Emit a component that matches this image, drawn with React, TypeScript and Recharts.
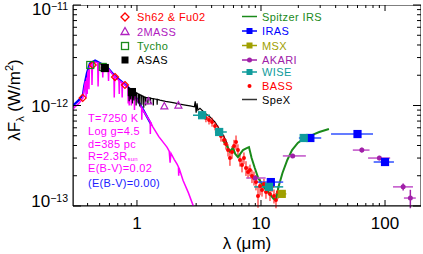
import React from 'react';
import { ComposedChart, Line, Scatter, XAxis, YAxis, ErrorBar, ReferenceArea } from 'recharts';

const W = 423;
const H = 254;
const PLOT_TOP = 5;
const PLOT_RIGHT = 421;
const TICK_MARGIN = 4;
const FONT = '"Liberation Sans", Arial, Helvetica, sans-serif';

const RED = '#ff0000';
const PURPLE = '#b020c0';
const GREEN = '#1a8a1a';
const BLUE = '#0000ff';
const OLIVE = '#a0a000';
const AKARI = '#a020a8';
const TEAL = '#109c9c';
const MAGENTA = '#ff00ff';

// axis ticks
const xMajor = [1, 10, 100];
const xTicks = [0.4, 0.5, 0.6, 0.7, 0.8, 0.9, 1, 2, 3, 4, 5, 6, 7, 8, 9, 10, 20, 30, 40, 50, 60, 70, 80, 90, 100];
const yMajor = [1e-13, 1e-12, 1e-11];
const yTicks = [1e-13, 2e-13, 3e-13, 4e-13, 5e-13, 6e-13, 7e-13, 8e-13, 9e-13, 1e-12, 2e-12, 3e-12, 4e-12, 5e-12, 6e-12, 7e-12, 8e-12, 9e-12, 1e-11];
const yExp: Record<string, string> = { '1e-13': '\u221213', '1e-12': '\u221212', '1e-11': '\u221211' };

// model photosphere, E(B-V)=0.02 (lambda um, lambda F_lambda in 1e-12 W/m2)
const modelRed: [number, number][] = [
  [0.30, 0.90], [0.316, 0.97], [0.34, 1.05], [0.36, 1.15], [0.367, 1.19], [0.375, 1.45],
  [0.384, 1.75], [0.389, 1.2], [0.393, 1.9], [0.397, 1.3], [0.401, 2.1], [0.407, 2.25],
  [0.410, 1.45], [0.414, 2.4], [0.425, 2.6], [0.431, 2.62], [0.434, 1.6], [0.438, 2.65],
  [0.46, 2.71], [0.482, 2.66], [0.486, 1.55], [0.491, 2.64], [0.52, 2.55], [0.527, 2.52],
  [0.53, 1.9], [0.534, 2.5], [0.573, 2.36], [0.586, 2.3], [0.59, 1.75], [0.594, 2.28],
  [0.652, 1.97], [0.656, 1.2], [0.661, 1.95], [0.69, 1.85], [0.715, 1.78], [0.72, 1.3],
  [0.725, 1.76], [0.755, 1.7], [0.76, 1.2], [0.765, 1.68], [0.80, 1.6], [0.846, 1.5],
  [0.85, 1.05], [0.854, 1.49], [0.862, 1.47], [0.866, 1.0], [0.870, 1.46], [0.897, 1.4],
  [0.901, 1.0], [0.905, 1.39], [0.93, 1.33], [0.951, 1.28], [0.955, 0.9], [0.959, 1.27],
  [1.0, 1.15], [1.09, 0.95], [1.094, 0.72], [1.098, 0.94], [1.118, 0.90], [1.25, 0.72],
  [1.278, 0.69], [1.282, 0.52], [1.286, 0.685], [1.346, 0.61], [1.5, 0.49], [1.745, 0.386],
  [1.80, 0.36], [1.82, 0.35], [1.85, 0.27], [1.88, 0.335], [2.0, 0.29], [2.1, 0.262],
  [2.16, 0.245], [2.17, 0.2], [2.18, 0.24], [2.35, 0.18], [2.6, 0.135], [2.83, 0.102], [3.1, 0.075],
];

// model photosphere, E(B-V)=0.00
const modelBlue: [number, number][] = [
  [0.30, 0.98], [0.34, 1.13], [0.367, 1.28], [0.375, 1.55], [0.395, 2.1], [0.417, 2.62],
  [0.46, 2.8], [0.573, 2.42], [0.665, 1.96], [0.83, 1.56], [0.93, 1.35], [1.118, 0.915],
  [1.3, 0.65],
];

// SpeX spectrum
const spex: [number, number][] = [
  [0.846, 1.53], [0.86, 1.50], [0.865, 1.10], [0.87, 1.48], [0.885, 1.47], [0.89, 1.15],
  [0.895, 1.46], [0.915, 1.43], [0.92, 1.05], [0.925, 1.42], [0.94, 1.40], [0.945, 1.12],
  [0.95, 1.39], [0.98, 1.35], [0.985, 1.0], [0.99, 1.34], [1.0, 1.33], [1.02, 1.31],
  [1.025, 1.05], [1.03, 1.30], [1.05, 1.29], [1.055, 0.98], [1.06, 1.28], [1.09, 1.26],
  [1.095, 1.02], [1.10, 1.25], [1.13, 1.23], [1.135, 0.95], [1.14, 1.22], [1.17, 1.21],
  [1.175, 1.0], [1.18, 1.20], [1.22, 1.20], [1.225, 1.03], [1.23, 1.19], [1.28, 1.19],
  [1.285, 1.05], [1.29, 1.18], [1.35, 1.17], [1.355, 1.0], [1.36, 1.17], [1.45, 1.15],
  [1.455, 1.02], [1.46, 1.15], [1.53, 1.13], [1.7, 1.10], [1.85, 1.08], [2.0, 1.06],
  [2.22, 1.03], [2.45, 1.01], [2.68, 0.99], [2.9, 0.97], [2.95, 1.1], [3.0, 0.85],
  [3.05, 1.05], [3.1, 0.9], [3.22, 0.94], [3.54, 0.84], [3.88, 0.77], [4.26, 0.685],
  [4.67, 0.57], [5.03, 0.49], [5.32, 0.42],
];

// Spitzer IRS spectrum
const irs: [number, number][] = [
  [4.94, 0.45], [5.3, 0.40], [5.6, 0.35], [5.95, 0.377], [6.2, 0.33], [6.52, 0.307],
  [6.8, 0.33], [7.16, 0.36], [7.6, 0.375], [8.0, 0.386], [8.4, 0.30], [8.9, 0.24],
  [9.5, 0.19], [10.2, 0.166], [11.0, 0.144], [11.6, 0.135], [12.1, 0.126], [12.6, 0.118],
  [13.2, 0.115], [13.9, 0.158], [14.9, 0.213], [16.3, 0.287], [17.8, 0.36], [19.8, 0.424],
  [22.5, 0.475], [25.7, 0.508], [29.5, 0.545], [35.3, 0.583],
];

// BASS spectrophotometry: lambda, flux, error (1e-12)
const bass: [number, number, number][] = [
  [3.60, 0.751, 0.07], [3.81, 0.717, 0.07], [4.03, 0.685, 0.07], [4.26, 0.625, 0.06],
  [4.50, 0.570, 0.06], [4.76, 0.497, 0.06], [5.03, 0.454, 0.05], [5.22, 0.414, 0.05],
  [5.42, 0.361, 0.05], [5.62, 0.301, 0.05], [5.84, 0.345, 0.05], [6.06, 0.395, 0.06],
  [6.29, 0.433, 0.07], [6.52, 0.361, 0.05], [6.77, 0.287, 0.04], [7.03, 0.256, 0.04],
  [7.29, 0.301, 0.04], [7.57, 0.239, 0.04], [7.86, 0.218, 0.03], [8.15, 0.228, 0.03],
  [8.46, 0.199, 0.03], [8.78, 0.190, 0.03], [9.11, 0.173, 0.03], [9.46, 0.126, 0.03],
  [9.82, 0.158, 0.03], [10.19, 0.144, 0.02], [10.57, 0.166, 0.02], [10.97, 0.138, 0.02],
  [11.39, 0.151, 0.02], [11.82, 0.132, 0.02], [12.27, 0.158, 0.02], [12.73, 0.126, 0.02],
  [13.21, 0.115, 0.02], [13.71, 0.138, 0.02],
];

// photometry (lambda um, flux 1e-12)
const shLam = [0.365, 0.44, 0.55, 0.665, 0.80];
const shFlux = [1.19, 2.53, 2.36, 1.92, 1.6];
const massLam = [1.235, 1.662, 2.159];
const massFlux = [1.11, 0.99, 1.01];
const tychoLam = [0.42, 0.53];
const tychoFlux = [2.53, 2.42];
const asasLam = [0.55, 0.91];
const asasFlux = [2.36, 1.36];

// photometry with band widths (lambda, flux 1e-12, band min, band max)
const irasLam = [12, 25, 60, 100];
const irasFlux = [0.173, 0.475, 0.52, 0.274];
const irasMin = [8.8, 20.2, 36.7, 81];
const irasMax = [15.1, 30.6, 80, 118];
const wiseLam = [3.35, 4.6, 11.6, 22.1];
const wiseFlux = [0.80, 0.545, 0.155, 0.475];
const wiseMin = [2.83, 4.25, 8.8, 21];
const wiseMax = [3.88, 5.3, 15.1, 25];
const akariLam = [9, 18, 65, 90, 140, 160];
const akariFlux = [0.19, 0.315, 0.36, 0.30, 0.155, 0.12];
const akariMin = [7.6, 15, 55, 73, 116, 142];
const akariMax = [10.9, 23, 75, 110, 168, 177];
const akariErr = [0.01, 0.015, 0.02, 0.015, 0.012, 0.025];
const msxLam = [14.7];
const msxFlux = [0.132];
const msxMin = [14];
const msxMax = [16];

const E = 1e-12;
const line = (arr: [number, number][]) => arr.map(([x, y]) => ({ x, y: y * E }));
const pts = (lam: number[], f: number[]) => lam.map((x, i) => ({ x, y: f[i] * E }));
const band = (lam: number[], f: number[], lo: number[], hi: number[], err?: number[]) =>
  lam.map((x, i) => ({
    x,
    y: f[i] * E,
    xe: [x - lo[i], hi[i] - x],
    ye: err ? [err[i] * E, err[i] * E] : [0, 0],
  }));

const modelRedData = line(modelRed);
const modelBlueData = line(modelBlue);
const spexData = line(spex);
const irsData = line(irs);
const bassData = bass.map(([x, y, e]) => ({ x, y: y * E, ye: [e * E, e * E] }));
const shData = pts(shLam, shFlux);
const massData = pts(massLam, massFlux);
const tychoData = pts(tychoLam, tychoFlux);
const asasData = pts(asasLam, asasFlux);
const irasData = band(irasLam, irasFlux, irasMin, irasMax);
const wiseData = band(wiseLam, wiseFlux, wiseMin, wiseMax);
const akariData = band(akariLam, akariFlux, akariMin, akariMax, akariErr);
const msxData = band(msxLam, msxFlux, msxMin, msxMax);

const XTick = (props: any) => {
  const { x, y, payload } = props;
  const major = xMajor.includes(payload.value);
  const len = major ? 6 : 3;
  const axisY = y - TICK_MARGIN;
  return (
    <g>
      <line x1={x} x2={x} y1={axisY} y2={axisY - len} stroke="#000" />
      <line x1={x} x2={x} y1={PLOT_TOP} y2={PLOT_TOP + len} stroke="#000" />
      {major && (
        <text x={x} y={axisY + 23} textAnchor="middle" fontSize={17} fontFamily={FONT} fill="#000">
          {payload.value}
        </text>
      )}
    </g>
  );
};

const YTick = (props: any) => {
  const { x, y, payload } = props;
  const v = payload.value;
  const major = yMajor.includes(v);
  const len = major ? 8 : 4;
  const axisX = x + TICK_MARGIN;
  const base = v === 1e-13 ? y + 1 : v === 1e-11 ? y + 10 : y + 6.5;
  return (
    <g>
      <line x1={axisX} x2={axisX + len} y1={y} y2={y} stroke="#000" />
      <line x1={PLOT_RIGHT - len} x2={PLOT_RIGHT} y1={y} y2={y} stroke="#000" />
      {major && (
        <text x={axisX - 5} y={base} textAnchor="end" fontSize={17} fontFamily={FONT} fill="#000">
          10<tspan dy={-5.5} fontSize={10.5}>{yExp[String(v)]}</tspan>
        </text>
      )}
    </g>
  );
};

const square = (color: string, s: number, filled = true) => (p: any) => (
  <rect x={p.cx - s / 2} y={p.cy - s / 2} width={s} height={s}
    fill={filled ? color : 'none'} stroke={color} strokeWidth={1.2} />
);
const diamond = (color: string) => (p: any) => (
  <path d={`M${p.cx},${p.cy - 3.5}L${p.cx + 3.5},${p.cy}L${p.cx},${p.cy + 3.5}L${p.cx - 3.5},${p.cy}Z`}
    fill="none" stroke={color} strokeWidth={1.2} />
);
const triangle = (color: string) => (p: any) => (
  <path d={`M${p.cx},${p.cy - 3.5}L${p.cx + 3.5},${p.cy + 3}L${p.cx - 3.5},${p.cy + 3}Z`}
    fill="none" stroke={color} strokeWidth={1.2} />
);
const dot = (color: string, r: number) => (p: any) => <circle cx={p.cx} cy={p.cy} r={r} fill={color} />;

const Legend = () => {
  const txt = { fontSize: 11, fontFamily: FONT, letterSpacing: 0.4 } as const;
  const left = [
    { label: 'Sh62 & Fu02', color: RED, y: 17 },
    { label: '2MASS', color: PURPLE, y: 31.5 },
    { label: 'Tycho', color: GREEN, y: 46 },
    { label: 'ASAS', color: '#000', y: 60 },
  ];
  const right = [
    { label: 'Spitzer IRS', color: GREEN, y: 16.5, mark: 'none' },
    { label: 'IRAS', color: BLUE, y: 31, mark: 'sq' },
    { label: 'MSX', color: OLIVE, y: 45.5, mark: 'sq' },
    { label: 'AKARI', color: AKARI, y: 60, mark: 'dot' },
    { label: 'WISE', color: TEAL, y: 72, mark: 'sq' },
    { label: 'BASS', color: RED, y: 86, mark: 'bass' },
    { label: 'SpeX', color: '#000', y: 99.5, mark: 'none' },
  ];
  return (
    <svg width={W} height={H} style={{ position: 'absolute', left: 0, top: 0, pointerEvents: 'none' }}>
      <path d="M125,13L129,17L125,21L121,17Z" fill="none" stroke={RED} strokeWidth={1.3} />
      <path d="M125,27.5L129,34.5L121,34.5Z" fill="none" stroke={PURPLE} strokeWidth={1.3} />
      <rect x={121.5} y={42.5} width={7} height={7} fill="none" stroke={GREEN} strokeWidth={1.3} />
      <rect x={121.5} y={56.5} width={7} height={7} fill="#000" />
      {left.map((d) => (
        <text key={d.label} x={137} y={d.y + 4} fill={d.color} {...txt}>{d.label}</text>
      ))}
      {right.map((d) => (
        <g key={d.label}>
          {d.mark !== 'bass' && (
            <line x1={242} x2={257} y1={d.y} y2={d.y} stroke={d.color === '#000' ? '#333' : d.color} strokeWidth={1.5} />
          )}
          {d.mark === 'sq' && <rect x={246.5} y={d.y - 3} width={6} height={6} fill={d.color} />}
          {d.mark === 'dot' && <circle cx={249.5} cy={d.y} r={2.5} fill={d.color} />}
          {d.mark === 'bass' && <circle cx={249.5} cy={d.y} r={2} fill={d.color} />}
          <text x={262} y={d.y + 4} fill={d.color} {...txt}>{d.label}</text>
        </g>
      ))}
      <g fontSize={11} fontFamily={FONT} fill={MAGENTA} letterSpacing={0.3}>
        <text x={88} y={122}>T=7250 K</text>
        <text x={88} y={135}>Log g=4.5</text>
        <text x={88} y={148}>d=385 pc</text>
        <text x={88} y={160}>R=2.3R<tspan fontSize={6} dy={1}>sun</tspan></text>
        <text x={88} y={172}>E(B-V)=0.02</text>
      </g>
      <text x={88} y={187} fontSize={11} fontFamily={FONT} fill="#2020ff" letterSpacing={0.3}>(E(B-V)=0.00)</text>
      <text x={247} y={249} textAnchor="middle" fontSize={17} fontFamily={FONT} fill="#000">
        {'\u03bb (\u03bcm)'}
      </text>
      <text transform="translate(20,100) rotate(-90)" textAnchor="middle" fontSize={17} fontFamily={FONT} fill="#000">
        {'\u03bbF'}<tspan dy={4} fontSize={11}>{'\u03bb'}</tspan><tspan dy={-4}> (W/m</tspan>
        <tspan dy={-7} fontSize={11}>2</tspan><tspan dy={7}>)</tspan>
      </text>
    </svg>
  );
};

export default function App() {
  return (
    <div style={{ position: 'absolute', left: 0, top: 0, width: W, height: H, background: '#fff' }}>
      <ComposedChart width={W} height={H} margin={{ top: 5, right: 2, bottom: 0, left: 0 }}>
        <XAxis dataKey="x" type="number" scale="log" domain={[0.305, 195]} allowDataOverflow
          ticks={xTicks} interval={0} height={48} tickSize={0} tickMargin={TICK_MARGIN}
          tick={XTick} tickLine={false} axisLine={{ stroke: '#000' }} />
        <YAxis dataKey="y" type="number" scale="log" domain={[1e-13, 1e-11]} allowDataOverflow
          ticks={yTicks} interval={0} width={73} tickSize={0} tickMargin={TICK_MARGIN}
          tick={YTick} tickLine={false} axisLine={{ stroke: '#000' }} />
        <ReferenceArea x1={0.305} x2={195} y1={1e-13} y2={1e-11} fill="none" stroke="#000" strokeOpacity={1} ifOverflow="hidden" />
        <Line data={modelBlueData} dataKey="y" type="linear" dot={false} activeDot={false}
          stroke={BLUE} strokeWidth={2.2} isAnimationActive={false} />
        <Line data={modelRedData} dataKey="y" type="linear" dot={false} activeDot={false}
          stroke={MAGENTA} strokeWidth={1.5} isAnimationActive={false} />
        <Line data={spexData} dataKey="y" type="linear" dot={false} activeDot={false}
          stroke="#000" strokeWidth={1.2} isAnimationActive={false} />
        <Scatter data={bassData} dataKey="y" shape={dot(RED, 2)} isAnimationActive={false}>
          <ErrorBar dataKey="ye" direction="y" width={0} stroke={RED} strokeWidth={1} />
        </Scatter>
        <Line data={irsData} dataKey="y" type="linear" dot={false} activeDot={false}
          stroke={GREEN} strokeWidth={2} isAnimationActive={false} />
        <Scatter data={shData} dataKey="y" shape={diamond(RED)} isAnimationActive={false} />
        <Scatter data={massData} dataKey="y" shape={triangle(PURPLE)} isAnimationActive={false} />
        <Scatter data={tychoData} dataKey="y" shape={square(GREEN, 7, false)} isAnimationActive={false} />
        <Scatter data={asasData} dataKey="y" shape={square('#000', 7)} isAnimationActive={false} />
        <Scatter data={akariData} dataKey="y" shape={dot(AKARI, 2.5)} isAnimationActive={false}>
          <ErrorBar dataKey="xe" direction="x" width={0} stroke="#c050c8" strokeWidth={1.5} />
          <ErrorBar dataKey="ye" direction="y" width={0} stroke={AKARI} strokeWidth={1.5} />
        </Scatter>
        <Scatter data={msxData} dataKey="y" shape={square(OLIVE, 7)} isAnimationActive={false}>
          <ErrorBar dataKey="xe" direction="x" width={0} stroke={OLIVE} strokeWidth={1.5} />
        </Scatter>
        <Scatter data={irasData} dataKey="y" shape={square(BLUE, 7)} isAnimationActive={false}>
          <ErrorBar dataKey="xe" direction="x" width={0} stroke="#3050ff" strokeWidth={1.5} />
        </Scatter>
        <Scatter data={wiseData} dataKey="y" shape={square(TEAL, 7)} isAnimationActive={false}>
          <ErrorBar dataKey="xe" direction="x" width={0} stroke={TEAL} strokeWidth={1.5} />
        </Scatter>
      </ComposedChart>
      <Legend />
    </div>
  );
}
